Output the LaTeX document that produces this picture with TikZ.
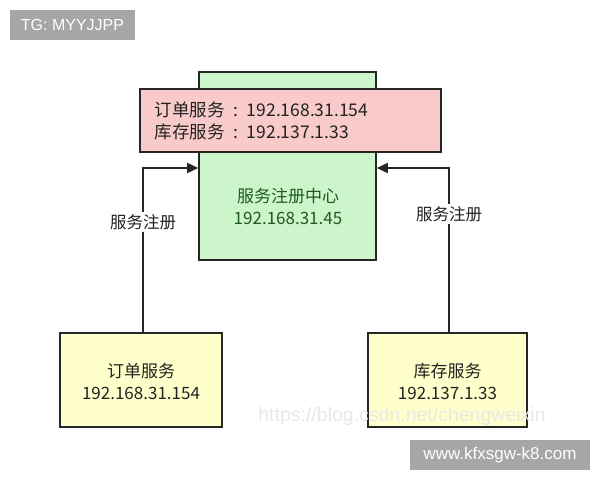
\documentclass[tikz,border=0pt]{standalone}
\usepackage{fontspec}
\setmainfont{Noto Sans CJK SC}
\newfontfamily\latinsans{Liberation Sans}
\usetikzlibrary{arrows.meta}
\definecolor{greenfill}{HTML}{CCF5CC}
\definecolor{pinkfill}{HTML}{F8CACA}
\definecolor{yellowfill}{HTML}{FFFFCC}
\definecolor{tagfill}{HTML}{A6A6A6}
\definecolor{greentext}{HTML}{1F5A1F}
\definecolor{darktext}{HTML}{222222}
\begin{document}
\begin{tikzpicture}[x=1pt,y=-1pt,
  box/.style={draw=black!85,line width=1.6pt,inner sep=0pt},
  conn/.style={draw=black!85,line width=1.6pt,-{Triangle[length=11pt,width=10pt]}},
  lbl/.style={font=\fontsize{16.5}{20}\selectfont,text=darktext,fill=white,inner sep=2pt},
  txt/.style={font=\fontsize{17}{22}\selectfont,text=darktext,align=center},
  tag/.style={fill=tagfill,text=white,font=\latinsans\fontsize{16}{18}\selectfont,inner sep=0pt}
]
\useasboundingbox (0,0) rectangle (600,480);
\fill[white] (0,0) rectangle (600,480);
% tags
\node[tag,minimum width=125pt,minimum height=30pt] (tg) at (72.5,25) {TG: MYYJJPP};
% registry
\node[box,fill=greenfill,minimum width=177pt,minimum height=188pt] (reg) at (287.5,166) {};
\node[font=\fontsize{17}{22}\selectfont,text=greentext,align=center] (regtxt) at (288,206) {服务注册中心\\192.168.31.45};
\node[box,fill=pinkfill,minimum width=301pt,minimum height=63pt] (tbl) at (290.5,120.5) {};
\node[font=\fontsize{17.5}{21.5}\selectfont,text=darktext,align=left,anchor=west] (tbltxt) at (151,121) {订单服务\enspace:\enspace192.168.31.154\\库存服务\enspace:\enspace192.137.1.33};
% services
\node[box,fill=yellowfill,minimum width=162pt,minimum height=94pt] (ord) at (141,380) {};
\node[txt] (ordtxt) at (141,381) {订单服务\\192.168.31.154};
\node[box,fill=yellowfill,minimum width=159pt,minimum height=94pt] (inv) at (447.5,380) {};
\node[txt] (invtxt) at (447.5,381) {库存服务\\192.137.1.33};
% connectors
\coordinate (lc) at (143,168);
\coordinate (rc) at (449,168);
\draw[conn] (ord.north -| lc) -- (lc) -- (reg.west |- lc);
\draw[conn] (inv.north -| rc) -- (rc) -- (reg.east |- rc);
\node[lbl] (l1) at (143,222) {服务注册};
\node[lbl] (l2) at (449,214) {服务注册};
% watermark
\node[font=\latinsans\fontsize{19.5}{22}\selectfont,text=black!9] (wm) at (402,416) {https://blog.csdn.net/chengweixin};
\node[tag,minimum width=180pt,minimum height=30pt,font=\latinsans\fontsize{17}{19}\selectfont] (url) at (500,455) {www.kfxsgw-k8.com};
\end{tikzpicture}
\end{document}
